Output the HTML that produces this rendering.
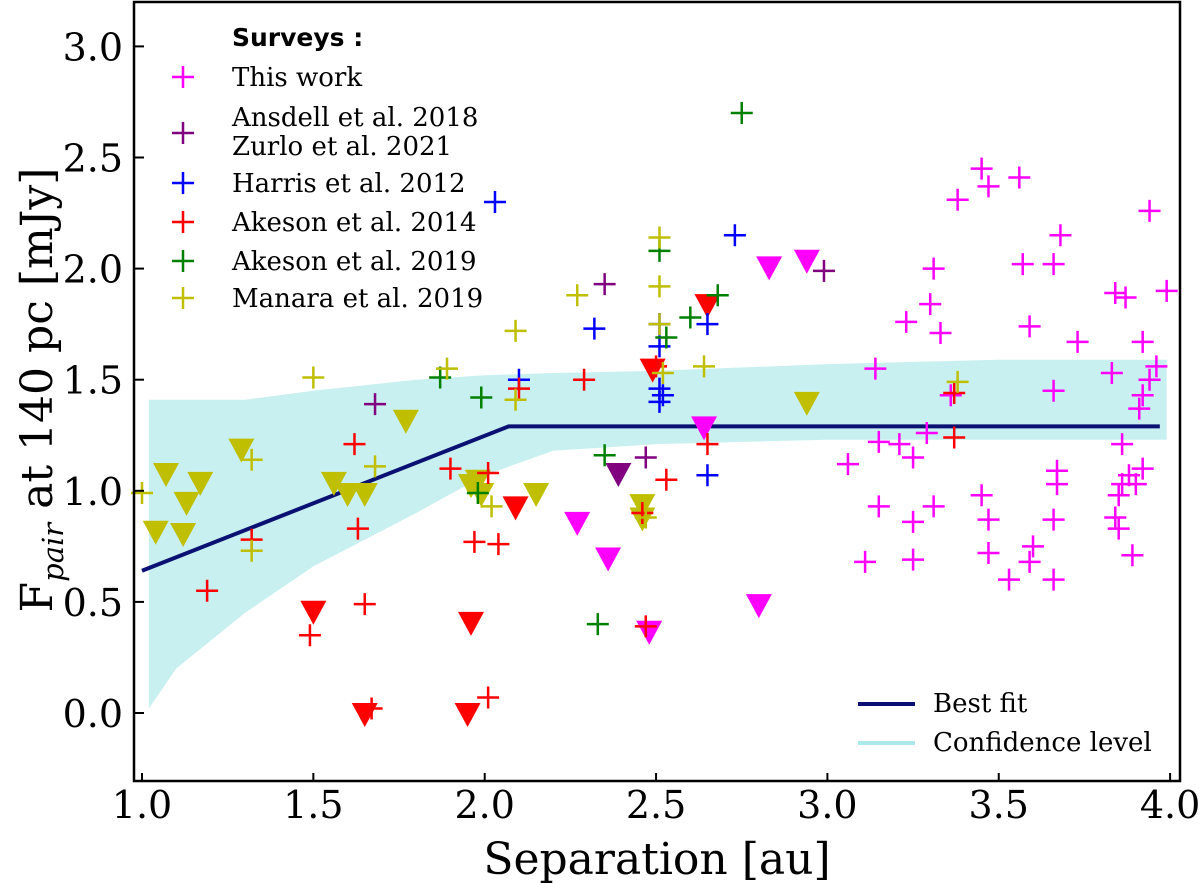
<!DOCTYPE html>
<html><head><meta charset="utf-8"><style>
html,body{margin:0;padding:0;background:#fff;}
svg{display:block;font-family:"DejaVu Serif","Liberation Serif",serif;}
</style></head><body>
<svg id="chart" width="1200" height="883" viewBox="0 0 1200 883">
<g id="plot"></g>
<rect x="134" y="2" width="1046" height="779" fill="none" stroke="#000" stroke-width="2.5"/>
<g id="ticks"></g>
<text x="657" y="874" font-size="44" text-anchor="middle">Separation [au]</text>
<text transform="translate(52,390) rotate(-90)" font-size="44" text-anchor="middle">F<tspan font-size="29" font-style="italic" dy="11">pair</tspan><tspan dy="-11"> at 140 pc [mJy]</tspan></text>
<g id="legend">
<text x="232" y="46" font-size="25" font-weight="bold" font-family="DejaVu Sans, Liberation Sans, sans-serif">Surveys :</text>
</g>
<g id="legend2">
<line x1="858" y1="704" x2="915" y2="704" stroke="#0a1172" stroke-width="4"/>
<text x="933" y="712" font-size="26">Best fit</text>
<line x1="858" y1="743" x2="915" y2="743" stroke="#aee9ea" stroke-width="4"/>
<text x="933" y="751" font-size="26">Confidence level</text>
</g>
</svg>
<script>
const xTicks=[1.0,1.5,2.0,2.5,3.0,3.5,4.0];
const yTicks=[0.0,0.5,1.0,1.5,2.0,2.5,3.0];
const fitX=[1.0,2.07,3.97];
const fitY=[0.64,1.29,1.29];
const bandX=[1.02,1.1,1.3,1.5,1.8,2.0,2.2,2.5,3.0,3.5,3.99];
const bandHi=[1.41,1.41,1.41,1.45,1.50,1.52,1.53,1.54,1.57,1.59,1.59];
const bandLo=[0.02,0.2,0.45,0.66,0.9,1.07,1.18,1.21,1.23,1.23,1.23];
const thisWorkX=[3.45,3.47,3.56,3.38,3.31,3.57,3.66,3.68,3.94,3.99,3.84,3.87,3.30,3.23,3.33,3.59,3.73,3.83,3.92,3.96,3.94,3.92,3.91,3.14,3.36,3.66,3.15,3.21,3.25,3.29,3.06,3.15,3.31,3.25,3.11,3.25,3.45,3.47,3.47,3.53,3.60,3.59,3.67,3.67,3.66,3.66,3.86,3.88,3.85,3.84,3.85,3.86,3.89,3.92,3.90];
const thisWorkY=[2.45,2.37,2.41,2.31,2.00,2.02,2.02,2.15,2.26,1.90,1.89,1.87,1.84,1.76,1.71,1.74,1.67,1.53,1.67,1.56,1.50,1.43,1.37,1.55,1.43,1.45,1.22,1.21,1.15,1.26,1.12,0.93,0.93,0.86,0.68,0.69,0.98,0.87,0.72,0.60,0.75,0.68,1.09,1.03,0.87,0.60,1.21,1.07,0.98,0.88,0.83,1.03,0.71,1.10,1.03];
const thisWorkTriX=[2.27,2.36,2.48,2.64,2.80,2.83,2.94];
const thisWorkTriY=[0.86,0.70,0.37,1.29,0.49,2.01,2.04];
const ansdellX=[1.68,2.35,2.47,2.99];
const ansdellY=[1.39,1.93,1.15,1.99];
const ansdellTriX=[2.39];
const ansdellTriY=[1.08];
const harrisX=[2.03,2.73,2.32,2.51,2.51,2.51,2.51,2.52,2.65,2.10,2.65];
const harrisY=[2.30,2.15,1.73,1.75,1.65,1.46,1.40,1.43,1.75,1.50,1.07];
const ake14X=[1.19,1.32,1.49,1.62,1.63,1.65,1.67,1.90,1.97,2.01,2.04,2.01,2.29,2.10,2.53,2.65,2.50,2.46,2.47,3.37,3.37];
const ake14Y=[0.55,0.78,0.35,1.21,0.83,0.49,0.02,1.10,0.77,1.08,0.76,0.07,1.50,1.46,1.05,1.21,1.56,0.90,0.39,1.24,1.44];
const ake14TriX=[1.50,1.65,1.95,1.96,2.09,2.49,2.65];
const ake14TriY=[0.46,0.00,0.00,0.41,0.93,1.55,1.84];
const ake19X=[2.75,2.51,2.68,2.60,2.53,1.87,1.99,2.35,2.33,1.98];
const ake19Y=[2.70,2.08,1.88,1.78,1.69,1.51,1.42,1.16,0.40,0.99];
const manaraX=[1.00,1.50,1.32,1.32,1.68,1.89,2.09,2.09,2.27,2.51,2.51,2.51,2.52,2.64,2.02,2.47,3.38];
const manaraY=[0.99,1.51,1.14,0.73,1.11,1.55,1.72,1.41,1.88,2.14,1.92,1.75,1.53,1.56,0.93,0.88,1.49];
const manaraTriX=[1.04,1.07,1.12,1.13,1.17,1.29,1.56,1.60,1.65,1.77,1.98,1.99,2.15,2.46,2.46,2.94,1.96];
const manaraTriY=[0.82,1.08,0.81,0.95,1.04,1.19,1.04,0.99,0.99,1.32,1.05,0.99,0.99,0.88,0.94,1.40,1.03];

const NS='http://www.w3.org/2000/svg';
const xs=v=>142+342.7*(v-1);
const ys=v=>713-222.2*v;
const plot=document.getElementById('plot');
const ticks=document.getElementById('ticks');
function mk(tag,attrs,parent){const e=document.createElementNS(NS,tag);for(const k in attrs)e.setAttribute(k,attrs[k]);parent.appendChild(e);return e;}

let d='M'+bandX.map((x,i)=>xs(x)+','+ys(bandHi[i])).join(' L');
for(let i=bandX.length-1;i>=0;i--)d+=' L'+xs(bandX[i])+','+ys(bandLo[i]);
const band=mk('path',{d:d+'Z',fill:'#c9f0f0'},plot);


const fit=mk('polyline',{points:fitX.map((x,i)=>xs(x)+','+ys(fitY[i])).join(' '),fill:'none',stroke:'#0a1172','stroke-width':4},plot);



function plus(x,y,c,parent,name){const g=mk('path',{d:`M${x-11},${y}H${x+11}M${x},${y-11}V${y+11}`,stroke:c,'stroke-width':2.5,fill:'none'},parent);

}
function tri(x,y,c,parent,name){const g=mk('path',{d:`M${x-13},${y-10}L${x+13},${y-10}L${x},${y+14}Z`,fill:c},parent);

}
const series=[
 [manaraTriX,manaraTriY,'#bfbf00',1,'manara-upper-limit'],
 [thisWorkTriX,thisWorkTriY,'#ff00ff',1,'this-work-upper-limit'],
 [ake14TriX,ake14TriY,'#ff0000',1,'akeson2014-upper-limit'],
 [ansdellTriX,ansdellTriY,'#800080',1,'ansdell-upper-limit'],
 [thisWorkX,thisWorkY,'#ff00ff',0,'this-work-point'],
 [ansdellX,ansdellY,'#800080',0,'ansdell-point'],
 [harrisX,harrisY,'#0000ff',0,'harris-point'],
 [ake14X,ake14Y,'#ff0000',0,'akeson2014-point'],
 [ake19X,ake19Y,'#008000',0,'akeson2019-point'],
 [manaraX,manaraY,'#bfbf00',0,'manara-point']];
series.forEach(s=>s[0].forEach((x,i)=>{ if(s[3])tri(xs(x),ys(s[1][i]),s[2],plot,s[4]); else plus(xs(x),ys(s[1][i]),s[2],plot,s[4]); }));

xTicks.forEach(v=>{const x=xs(v);
 const l=mk('line',{x1:x,y1:781,x2:x,y2:773,stroke:'#000','stroke-width':2},ticks);
 
 
 const t=mk('text',{x:x,y:818,'font-size':38,'text-anchor':'middle'},ticks);t.textContent=v.toFixed(1);
 
 });
yTicks.forEach(v=>{const y=ys(v);
 const l=mk('line',{x1:134,y1:y,x2:144,y2:y,stroke:'#000','stroke-width':2},ticks);
 
 
 const t=mk('text',{x:123,y:y+14,'font-size':38,'text-anchor':'end'},ticks);t.textContent=v.toFixed(1);
 
 });

const leg=document.getElementById('legend');
const legItems=[['This work','#ff00ff',77,[77]],['Ansdell et al. 2018|Zurlo et al. 2021','#800080',133,[117,146]],['Harris et al. 2012','#0000ff',183,[183]],['Akeson et al. 2014','#ff0000',222,[222]],['Akeson et al. 2019','#008000',261,[261]],['Manara et al. 2019','#bfbf00',298,[298]]];
legItems.forEach(it=>{plus(183,it[2],it[1],leg,'legend-marker');
 it[0].split('|').forEach((s,j)=>{const t=mk('text',{x:232,y:it[3][j]+9,'font-size':26},leg);t.textContent=s;
 
 });});
</script>
</body></html>
